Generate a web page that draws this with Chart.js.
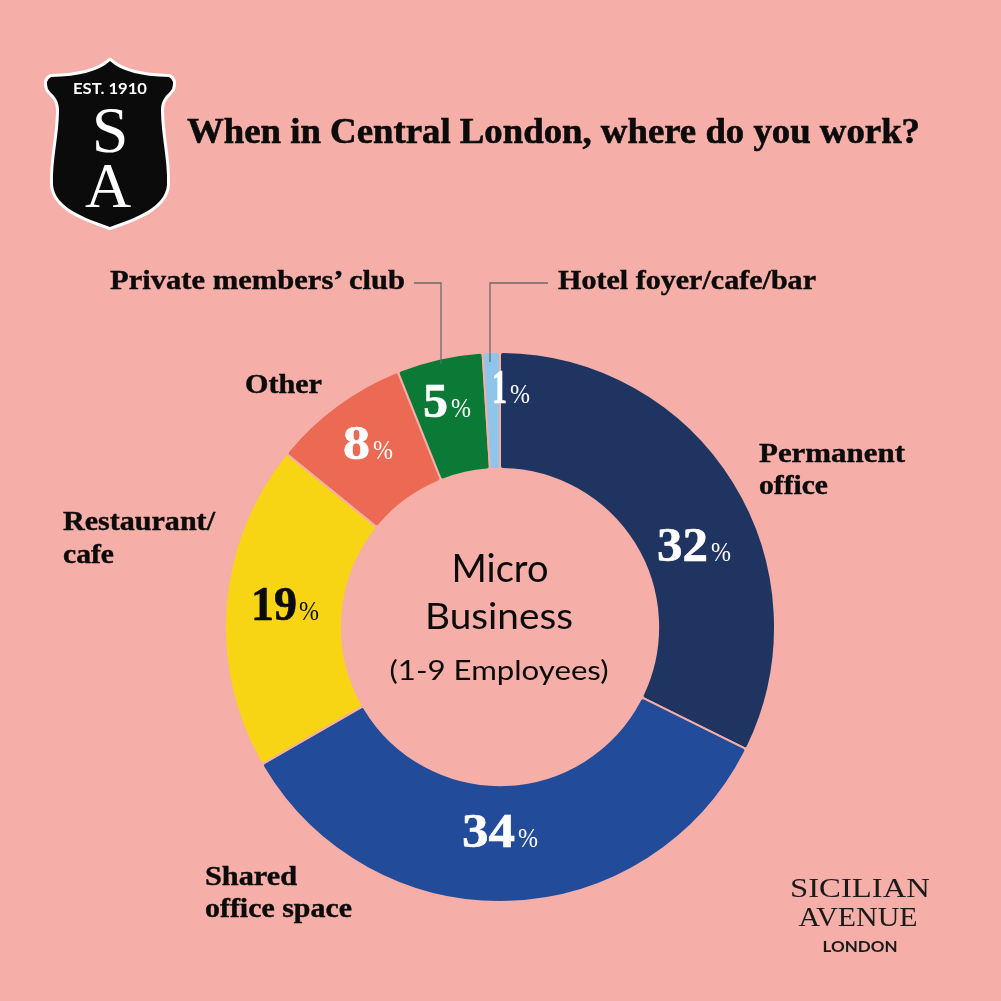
<!DOCTYPE html>
<html>
<head>
<meta charset="utf-8">
<script src="https://cdn.jsdelivr.net/npm/chart.js@4/dist/chart.umd.min.js"></script>
<style>
  html,body{margin:0;padding:0;background:#f5aea8;}
  #wrap{position:relative;width:1001px;height:1001px;overflow:hidden;background:#f5aea8;}
  #chartBox{position:absolute;left:224px;top:351px;width:552px;height:552px;}
  #overlay{position:absolute;left:0;top:0;}
  .serifB{font-family:"Liberation Serif","Times New Roman",serif;font-weight:700;}
  .serif{font-family:"Liberation Serif","Times New Roman",serif;font-weight:400;}
  .sans{font-family:Lato,"Open Sans",sans-serif;}
</style>
</head>
<body>
<script>
// ---- data ----
const categories = ['Permanent office','Shared office space','Restaurant/cafe','Other','Private members’ club','Hotel foyer/cafe/bar'];
const values = [32, 34, 19, 8, 5, 1];
const sliceColors = ['#1f3461','#224b9a','#f7d515','#ec6a53','#0a7a36','#8ec5e8'];
const labelLines = [['Permanent','office'],['Shared','office space'],['Restaurant/','cafe'],['Other'],['Private members’ club'],['Hotel foyer/cafe/bar']];
const title = 'When in Central London, where do you work?';
const centerLines = ['Micro','Business','(1-9 Employees)'];
</script>
<div id="wrap">
  <div id="chartBox"><canvas id="c" width="552" height="552"></canvas></div>
  <svg id="overlay" width="1001" height="1001" xmlns="http://www.w3.org/2000/svg"></svg>
</div>
<script>
const BG = '#f5aea8';
const NS = 'http://www.w3.org/2000/svg';
const svg = document.getElementById('overlay');
function el(name, attrs, text){
  const e = document.createElementNS(NS, name);
  for (const k in attrs) e.setAttribute(k, attrs[k]);
  if (text !== undefined) e.textContent = text;
  svg.appendChild(e);
  return e;
}
function txt(s, x, y, size, cls, fill, opts){
  opts = opts || {};
  const a = {x:x, y:y, 'font-size':size, class:cls, fill:fill};
  if (opts.anchor) a['text-anchor'] = opts.anchor;
  if (opts.w) { a.textLength = opts.w; a.lengthAdjust = 'spacingAndGlyphs'; }
  if (opts.weight) a['font-weight'] = opts.weight;
  if (opts.stroke) { a.stroke = fill; a['stroke-width'] = opts.stroke; }
  return el('text', a, s);
}

// ---- chart ----
new Chart(document.getElementById('c'), {
  type: 'doughnut',
  data: {
    labels: categories,
    datasets: [{
      data: values,
      backgroundColor: sliceColors,
      borderColor: BG,
      borderWidth: 2,
      borderRadius: 3,
      hoverOffset: 0
    }]
  },
  options: {
    responsive: false,
    animation: false,
    cutout: '57.5%',
    rotation: 0,
    layout: {padding: 0},
    plugins: {legend: {display: false}, tooltip: {enabled: false}}
  }
});

// ---- logo shield ----
el('path', {d:'M110,61 Q126,76 169,77 Q175,80 172,89 C168,95 161,98 161,110 C161,135 168,160 167,185 C165,208 135,218 110,227 C85,218 55,208 53,185 C52,160 59,135 59,110 C59,98 52,95 48,89 Q45,80 51,77 Q94,76 110,61 Z',
  fill:'#0b0b0b', stroke:'#ffffff', 'stroke-width':6, 'paint-order':'stroke', 'stroke-linejoin':'round'});
txt('EST. 1910', 110, 94, 15, 'sans', '#ffffff', {anchor:'middle', w:74, weight:700});
txt('S', 110, 152, 66, 'serif', '#ffffff', {anchor:'middle'});
txt('A', 108, 207, 64, 'serif', '#ffffff', {anchor:'middle'});

// ---- title ----
txt(title, 187, 143, 35, 'serifB', '#0b0b0b', {w:733, stroke:0.6});

// ---- outer labels ----
const labelPos = [
  {x:759, y:[462,494], w:[146,69]},
  {x:205, y:[885,917], w:[92,147]},
  {x:63,  y:[530,563], w:[152,51]},
  {x:245, y:[393], w:[77]},
  {x:110, y:[289], w:[295]},
  {x:558, y:[289], w:[258]}
];
labelLines.forEach((lines, i) => {
  lines.forEach((ln, j) => {
    txt(ln, labelPos[i].x, labelPos[i].y[j], 27, 'serifB', '#0b0b0b', {w:labelPos[i].w[j], stroke:0.4});
  });
});

// ---- leader lines ----
el('polyline', {points:'414,283 441,283 441,364', fill:'none', stroke:'#6b6b6b', 'stroke-width':1.3});
el('polyline', {points:'548,283 490,283 490,362', fill:'none', stroke:'#6b6b6b', 'stroke-width':1.3});

// ---- percentage labels ----
const pctPos = [
  {x:657, y:561, dw:51, px:711},
  {x:462, y:847, dw:53, px:518},
  {x:251, y:620, dw:46, px:299},
  {x:343, y:459, dw:27, px:373},
  {x:423, y:417, dw:25, px:451},
  {x:492, y:403, dw:15, px:510}
];
values.forEach((v, i) => {
  const p = pctPos[i];
  const col = i === 2 ? '#0b0b0b' : '#ffffff';
  txt(String(v), p.x, p.y, 48, 'serifB', col, {w:p.dw, stroke:0.6});
  txt('%', p.px, p.y, 28, 'serif', col, {w:20});
});

// ---- centre text ----
txt(centerLines[0], 500, 582, 38, 'sans', '#0b0b0b', {anchor:'middle', w:97, weight:400});
txt(centerLines[1], 499, 629, 36, 'sans', '#0b0b0b', {anchor:'middle', w:148, weight:400});
txt(centerLines[2], 499, 680, 26, 'sans', '#0b0b0b', {anchor:'middle', w:219, weight:400});

// ---- bottom-right brand ----
txt('SICILIAN', 860, 897, 27, 'serif', '#1a1a1a', {anchor:'middle', w:140});
txt('AVENUE', 858, 926, 27, 'serif', '#1a1a1a', {anchor:'middle', w:119});
txt('LONDON', 860, 952, 16, 'sans', '#1a1a1a', {anchor:'middle', w:75, weight:700});
</script>
</body>
</html>
